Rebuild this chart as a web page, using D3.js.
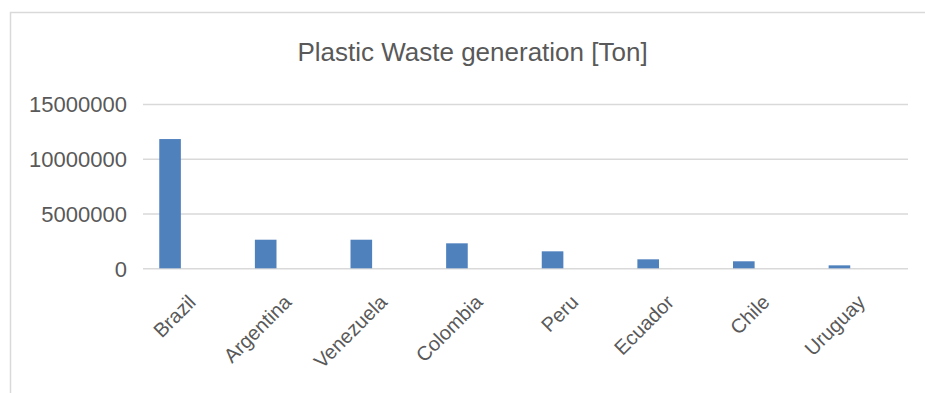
<!DOCTYPE html>
<html>
<head>
<meta charset="utf-8">
<script src="https://cdn.jsdelivr.net/npm/d3@7"></script>
<style>
  html, body { margin: 0; padding: 0; background: #fff; }
  svg { display: block; font-family: "Liberation Sans", Arial, sans-serif; }
</style>
</head>
<body>
<svg id="chart" width="925" height="393"></svg>
<script>
// Plastic waste generation per country, in tonnes
const countries = ["Brazil", "Argentina", "Venezuela", "Colombia", "Peru", "Ecuador", "Chile", "Uruguay"];
const wasteTons = [11800000, 2610000, 2610000, 2280000, 1550000, 820000, 640000, 270000];
const yTicks = [0, 5000000, 10000000, 15000000];
const chartTitle = "Plastic Waste generation [Ton]";

const svg = d3.select("#chart");
const W = 925, H = 393;
const plot = { left: 143, right: 908, top: 104, bottom: 268.3 };
const textColor = "#595959";
const gridColor = "#d9d9d9";
const barColor = "#4f81bd";

// chart frame (runs past the right and bottom edges)
svg.append("rect")
  .attr("x", 10.5).attr("y", 12.5)
  .attr("width", W + 20).attr("height", H + 20)
  .attr("fill", "#fff")
  .attr("stroke", gridColor)
  .attr("stroke-width", 1.5);

// title
svg.append("text")
  .attr("x", 472.5).attr("y", 61)
  .attr("text-anchor", "middle")
  .attr("fill", textColor)
  .style("font-size", "26px")
  .text(chartTitle);

const x = d3.scaleBand()
  .domain(countries)
  .range([plot.left, plot.right])
  .paddingInner(0).paddingOuter(0);

const y = d3.scaleLinear()
  .domain([0, 15000000])
  .range([plot.bottom, plot.top]);

// horizontal gridlines + value labels
const yAxis = d3.axisLeft(y)
  .tickValues(yTicks)
  .tickSize(-(plot.right - plot.left))
  .tickPadding(16)
  .tickFormat(d3.format("d"));

const gy = svg.append("g")
  .attr("transform", `translate(${plot.left},0)`)
  .call(yAxis);
gy.select(".domain").remove();
gy.selectAll(".tick line").attr("stroke", gridColor).attr("stroke-width", 1.5);
gy.selectAll(".tick text")
  .attr("fill", textColor)
  .style("font-size", "22px")
  .attr("dy", "0.36em");

// bars, sitting in the left part of each category slot
const barOffset = 0.17, barWidth = 0.226;
svg.append("g").selectAll("rect")
  .data(countries)
  .join("rect")
  .attr("x", (d) => x(d) + x.bandwidth() * barOffset)
  .attr("width", x.bandwidth() * barWidth)
  .attr("y", (d, i) => y(wasteTons[i]))
  .attr("height", (d, i) => y(0) - y(wasteTons[i]))
  .attr("fill", barColor);

// category axis with rotated labels
const xAxis = d3.axisBottom(x).tickSize(0).tickPadding(0);
const gx = svg.append("g")
  .attr("transform", `translate(0,${plot.bottom})`)
  .call(xAxis);
gx.select(".domain").remove();
gx.selectAll(".tick text")
  .attr("fill", textColor)
  .style("font-size", "20px")
  .attr("text-anchor", "end")
  .attr("y", 0).attr("dy", "0.72em")
  .attr("transform", "translate(-4,25) rotate(-45)");
</script>
</body>
</html>
